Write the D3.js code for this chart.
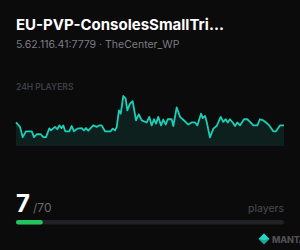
<!DOCTYPE html>
<html>
<head>
<meta charset="utf-8">
<script src="https://cdn.jsdelivr.net/npm/d3@7"></script>
<style>
  html, body { margin: 0; padding: 0; background: #0b0b0c; }
  svg { display: block; font-family: Inter, "Noto Sans", sans-serif; }
</style>
</head>
<body>
<svg id="card"></svg>
<script>
var width = 300;
var height = 250;

// server info
var serverName = "EU-PVP-ConsolesSmallTri...";
var serverAddr = "5.62.116.41:7779 · TheCenter_WP";
var currentPlayers = 7;
var maxPlayers = 70;

// 24h history (hours ago offset, players)
var hours = [0, 0.36, 0.60, 0.90, 1.41, 1.61, 1.85, 2.21, 2.44, 2.69, 2.98, 3.13, 3.49, 3.70, 3.88, 4.09, 4.24, 4.41, 4.77, 4.99,
  5.19, 5.49, 5.88, 6.09, 6.27, 6.47, 6.92, 7.23, 7.46, 7.67, 7.97, 8.48, 8.66, 8.87, 9.02, 9.22, 9.38, 9.61, 9.82, 9.97,
  10.21, 10.45, 10.75, 10.99, 11.26, 11.70, 11.94, 12.15, 12.36, 12.54, 12.74, 12.99, 13.19, 13.41, 13.59, 13.94, 14.09, 14.39, 14.69, 15.13,
  15.43, 15.73, 16.03, 16.24, 16.57, 16.72, 16.93, 17.08, 17.37, 17.67, 17.97, 18.33, 18.56, 18.78, 18.96, 19.16, 19.41, 19.61, 19.82, 20.06,
  20.42, 20.71, 20.96, 21.25, 21.61, 21.85, 22.15, 22.39, 22.68, 23.04, 23.28, 23.64, 24.00];
var players = [8, 6.5, 3, 5, 5, 3, 4, 4, 3, 3, 6, 5.3, 6.5, 5.7, 7, 6.1, 7, 5, 5, 6.8,
  5, 5.9, 6.1, 5.3, 6.1, 5.2, 7, 6.5, 7, 7, 5, 5, 5.9, 5.3, 6.5, 12.1, 11, 17, 16.1, 12.1,
  14.4, 15.2, 8.7, 10.8, 8.7, 8, 9.9, 7, 9.1, 7.6, 9.9, 7, 9, 7.3, 9.1, 9.1, 6.8, 13.1, 9.9, 8.4,
  7.3, 8, 8, 7, 11, 9.5, 10.2, 8.2, 2.9, 5.9, 6.8, 9.9, 8.2, 9.1, 8, 9.1, 8, 6.8, 8, 7,
  9.1, 9.1, 8.2, 7, 7, 9.1, 8.7, 8, 7, 5, 5, 7, 7];

var svg = d3.select("#card").attr("width", width).attr("height", height);

svg.append("text").attr("x", 16).attr("y", 29.5)
  .attr("fill", "#ffffff").attr("font-size", 15).attr("font-weight", 700)
  .text(serverName);

svg.append("text").attr("x", 16).attr("y", 47.5)
  .attr("fill", "#7c7c80").attr("font-size", 10.5)
  .text(serverAddr);

svg.append("text").attr("x", 16).attr("y", 90)
  .attr("fill", "#3f3f42").attr("font-size", 8.5).attr("font-weight", 600)
  .text("24H PLAYERS");

var data = hours.map(function(h, i) { return { h: h, v: players[i] }; });

var x = d3.scaleLinear().domain([0, 24]).range([16, 284]);
var y = d3.scaleLinear().domain([0, 17]).range([146, 96]);

var area = d3.area().x(function(d) { return x(d.h); }).y0(y(0)).y1(function(d) { return y(d.v); });
var line = d3.line().x(function(d) { return x(d.h); }).y(function(d) { return y(d.v); });

svg.append("path").datum(data).attr("d", area).attr("fill", "#0d201e");
svg.append("path").datum(data).attr("d", line)
  .attr("fill", "none").attr("stroke", "#19cfb6").attr("stroke-width", 1.8)
  .attr("stroke-linejoin", "round");

// player count
var count = svg.append("text").attr("x", 16).attr("y", 212)
  .attr("fill", "#ffffff").attr("font-size", 24).attr("font-weight", 700)
  .text(currentPlayers);
count.append("tspan").attr("dx", 3).attr("font-size", 12).attr("font-weight", 400)
  .attr("fill", "#6a6a6e").text("/" + maxPlayers);

svg.append("text").attr("x", 284).attr("y", 211.5).attr("text-anchor", "end")
  .attr("fill", "#4a4a4e").attr("font-size", 10.5)
  .text("players");

var bar = d3.scaleLinear().domain([0, maxPlayers]).range([16, 284]);
svg.append("rect").attr("x", bar(0)).attr("y", 220).attr("width", bar(maxPlayers) - bar(0)).attr("height", 4.5)
  .attr("rx", 2.25).attr("fill", "#222224");
svg.append("rect").attr("x", bar(0)).attr("y", 220).attr("width", bar(currentPlayers) - bar(0)).attr("height", 4.5)
  .attr("rx", 2.25).attr("fill", "#22c55e");

// logo
var logo = svg.append("g").attr("transform", "translate(264,239)");
logo.append("path").attr("d", "M0,-5.5 L5.5,0 L0,5.5 L-5.5,0 Z").attr("fill", "#1aa897");
logo.append("path").attr("d", "M0,-5.5 L5.5,0 L0,1 L-5.5,0 Z").attr("fill", "#2ad3bd");
svg.append("text").attr("x", 272).attr("y", 243)
  .attr("fill", "#4f4f53").attr("font-size", 9).attr("font-weight", 800)
  .attr("letter-spacing", -0.2)
  .text("MANTA");
</script>
</body>
</html>
